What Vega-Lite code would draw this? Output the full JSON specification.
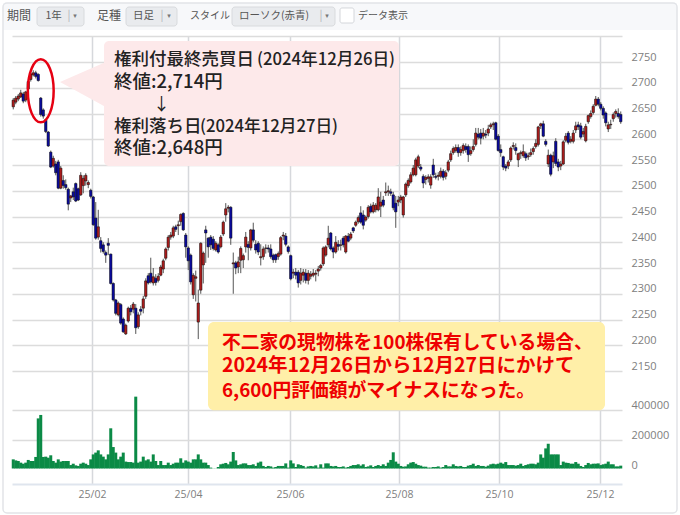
{
  "$schema": "https://vega.github.io/schema/vega-lite/v6.json",
  "autosize": "none",
  "padding": {"left": 12, "top": 36, "right": 58, "bottom": 31},
  "width": 610,
  "height": 448,
  "background": "#ffffff",
  "config": {"view": {"stroke": null}, "text": {"font": "Noto Sans CJK JP"}},
  "datasets": {
    "bars": [
      {"n":0,"o":2663,"h":2680,"l":2658,"c":2676,"v":71000},
      {"n":1,"o":2672,"h":2684,"l":2668,"c":2680,"v":64000},
      {"n":2,"o":2678,"h":2688,"l":2674,"c":2684,"v":60000},
      {"n":3,"o":2682,"h":2696,"l":2680,"c":2690,"v":49000},
      {"n":4,"o":2688,"h":2692,"l":2670,"c":2674,"v":42000},
      {"n":5,"o":2676,"h":2694,"l":2672,"c":2692,"v":49000},
      {"n":6,"o":2698,"h":2716,"l":2686,"c":2712,"v":67000},
      {"n":7,"o":2716,"h":2730,"l":2712,"c":2727,"v":60000},
      {"n":8,"o":2725,"h":2734,"l":2722,"c":2729,"v":60000},
      {"n":9,"o":2729,"h":2733,"l":2718,"c":2722,"v":87000},
      {"n":10,"o":2726,"h":2728,"l":2712,"c":2714,"v":344000},
      {"n":11,"o":2680,"h":2682,"l":2644,"c":2648,"v":367000},
      {"n":12,"o":2657,"h":2660,"l":2640,"c":2645,"v":87000},
      {"n":13,"o":2638,"h":2640,"l":2612,"c":2615,"v":89000},
      {"n":14,"o":2614,"h":2616,"l":2585,"c":2587,"v":82000},
      {"n":15,"o":2575,"h":2578,"l":2544,"c":2546,"v":98000},
      {"n":16,"o":2548,"h":2568,"l":2545,"c":2563,"v":60000},
      {"n":17,"o":2552,"h":2558,"l":2530,"c":2535,"v":49000},
      {"n":18,"o":2556,"h":2560,"l":2503,"c":2505,"v":71000},
      {"n":19,"o":2505,"h":2548,"l":2503,"c":2544,"v":56000},
      {"n":20,"o":2520,"h":2530,"l":2504,"c":2510,"v":60000},
      {"n":21,"o":2512,"h":2522,"l":2502,"c":2506,"v":60000},
      {"n":22,"o":2503,"h":2506,"l":2462,"c":2474,"v":60000},
      {"n":23,"o":2486,"h":2492,"l":2478,"c":2490,"v":33000},
      {"n":24,"o":2498,"h":2506,"l":2482,"c":2488,"v":42000},
      {"n":25,"o":2514,"h":2516,"l":2478,"c":2480,"v":31000},
      {"n":26,"o":2504,"h":2506,"l":2480,"c":2482,"v":27000},
      {"n":27,"o":2492,"h":2536,"l":2490,"c":2530,"v":42000},
      {"n":28,"o":2510,"h":2530,"l":2495,"c":2524,"v":49000},
      {"n":29,"o":2519,"h":2534,"l":2510,"c":2530,"v":42000},
      {"n":30,"o":2512,"h":2520,"l":2505,"c":2516,"v":33000},
      {"n":31,"o":2501,"h":2504,"l":2485,"c":2489,"v":71000},
      {"n":32,"o":2488,"h":2490,"l":2432,"c":2434,"v":104000},
      {"n":33,"o":2447,"h":2478,"l":2405,"c":2408,"v":116000},
      {"n":34,"o":2410,"h":2463,"l":2405,"c":2430,"v":131000},
      {"n":35,"o":2403,"h":2410,"l":2380,"c":2388,"v":104000},
      {"n":36,"o":2395,"h":2400,"l":2378,"c":2382,"v":89000},
      {"n":37,"o":2380,"h":2384,"l":2360,"c":2375,"v":71000},
      {"n":38,"o":2398,"h":2408,"l":2375,"c":2394,"v":104000},
      {"n":39,"o":2377,"h":2378,"l":2318,"c":2320,"v":278000},
      {"n":40,"o":2320,"h":2322,"l":2285,"c":2288,"v":153000},
      {"n":41,"o":2288,"h":2290,"l":2258,"c":2262,"v":116000},
      {"n":42,"o":2259,"h":2285,"l":2256,"c":2282,"v":71000},
      {"n":43,"o":2279,"h":2282,"l":2240,"c":2243,"v":89000},
      {"n":44,"o":2251,"h":2254,"l":2224,"c":2226,"v":116000},
      {"n":45,"o":2222,"h":2242,"l":2220,"c":2239,"v":56000},
      {"n":46,"o":2247,"h":2275,"l":2244,"c":2272,"v":53000},
      {"n":47,"o":2272,"h":2278,"l":2258,"c":2265,"v":53000},
      {"n":48,"o":2270,"h":2284,"l":2262,"c":2280,"v":49000},
      {"n":49,"o":2272,"h":2280,"l":2222,"c":2234,"v":489000},
      {"n":50,"o":2236,"h":2264,"l":2232,"c":2259,"v":49000},
      {"n":51,"o":2270,"h":2276,"l":2258,"c":2266,"v":56000},
      {"n":52,"o":2272,"h":2296,"l":2262,"c":2290,"v":89000},
      {"n":53,"o":2295,"h":2330,"l":2290,"c":2325,"v":64000},
      {"n":54,"o":2335,"h":2340,"l":2318,"c":2321,"v":71000},
      {"n":55,"o":2340,"h":2370,"l":2320,"c":2323,"v":56000},
      {"n":56,"o":2321,"h":2350,"l":2316,"c":2333,"v":104000},
      {"n":57,"o":2330,"h":2338,"l":2316,"c":2322,"v":60000},
      {"n":58,"o":2326,"h":2340,"l":2322,"c":2334,"v":33000},
      {"n":59,"o":2336,"h":2356,"l":2334,"c":2352,"v":60000},
      {"n":60,"o":2348,"h":2368,"l":2340,"c":2364,"v":33000},
      {"n":61,"o":2369,"h":2390,"l":2365,"c":2387,"v":33000},
      {"n":62,"o":2390,"h":2414,"l":2384,"c":2410,"v":49000},
      {"n":63,"o":2410,"h":2420,"l":2405,"c":2414,"v":33000},
      {"n":64,"o":2412,"h":2432,"l":2408,"c":2428,"v":42000},
      {"n":65,"o":2430,"h":2434,"l":2420,"c":2425,"v":49000},
      {"n":66,"o":2432,"h":2442,"l":2414,"c":2434,"v":49000},
      {"n":67,"o":2440,"h":2456,"l":2432,"c":2454,"v":78000},
      {"n":68,"o":2456,"h":2458,"l":2422,"c":2424,"v":49000},
      {"n":69,"o":2414,"h":2418,"l":2370,"c":2391,"v":64000},
      {"n":70,"o":2389,"h":2392,"l":2346,"c":2364,"v":56000},
      {"n":71,"o":2375,"h":2378,"l":2318,"c":2323,"v":49000},
      {"n":72,"o":2298,"h":2340,"l":2290,"c":2336,"v":71000},
      {"n":73,"o":2330,"h":2345,"l":2285,"c":2333,"v":71000},
      {"n":74,"o":2245,"h":2308,"l":2212,"c":2282,"v":104000},
      {"n":75,"o":2307,"h":2400,"l":2300,"c":2398,"v":71000},
      {"n":76,"o":2356,"h":2382,"l":2320,"c":2379,"v":49000},
      {"n":77,"o":2424,"h":2432,"l":2360,"c":2418,"v":49000},
      {"n":78,"o":2408,"h":2410,"l":2370,"c":2391,"v":33000},
      {"n":79,"o":2410,"h":2414,"l":2385,"c":2395,"v":16000},
      {"n":80,"o":2406,"h":2412,"l":2384,"c":2388,"v":11000},
      {"n":81,"o":2385,"h":2402,"l":2382,"c":2398,"v":11000},
      {"n":82,"o":2395,"h":2398,"l":2378,"c":2381,"v":20000},
      {"n":83,"o":2391,"h":2414,"l":2388,"c":2410,"v":38000},
      {"n":84,"o":2416,"h":2442,"l":2412,"c":2439,"v":42000},
      {"n":85,"o":2453,"h":2476,"l":2440,"c":2465,"v":47000},
      {"n":86,"o":2466,"h":2472,"l":2458,"c":2468,"v":38000},
      {"n":87,"o":2468,"h":2470,"l":2395,"c":2408,"v":56000},
      {"n":88,"o":2358,"h":2380,"l":2300,"c":2360,"v":120000},
      {"n":89,"o":2360,"h":2364,"l":2338,"c":2350,"v":64000},
      {"n":90,"o":2352,"h":2372,"l":2340,"c":2362,"v":33000},
      {"n":91,"o":2365,"h":2392,"l":2340,"c":2388,"v":38000},
      {"n":92,"o":2366,"h":2378,"l":2350,"c":2374,"v":44000},
      {"n":93,"o":2391,"h":2420,"l":2380,"c":2410,"v":44000},
      {"n":94,"o":2396,"h":2402,"l":2365,"c":2390,"v":33000},
      {"n":95,"o":2389,"h":2426,"l":2384,"c":2424,"v":33000},
      {"n":96,"o":2424,"h":2438,"l":2400,"c":2404,"v":38000},
      {"n":97,"o":2396,"h":2404,"l":2378,"c":2385,"v":27000},
      {"n":98,"o":2398,"h":2402,"l":2375,"c":2381,"v":49000},
      {"n":99,"o":2370,"h":2396,"l":2355,"c":2372,"v":56000},
      {"n":100,"o":2372,"h":2392,"l":2366,"c":2387,"v":27000},
      {"n":101,"o":2388,"h":2396,"l":2378,"c":2389,"v":20000},
      {"n":102,"o":2389,"h":2395,"l":2380,"c":2387,"v":27000},
      {"n":103,"o":2387,"h":2396,"l":2368,"c":2372,"v":24000},
      {"n":104,"o":2375,"h":2378,"l":2360,"c":2366,"v":16000},
      {"n":105,"o":2376,"h":2378,"l":2360,"c":2366,"v":20000},
      {"n":106,"o":2372,"h":2382,"l":2366,"c":2378,"v":27000},
      {"n":107,"o":2377,"h":2412,"l":2374,"c":2409,"v":27000},
      {"n":108,"o":2412,"h":2420,"l":2404,"c":2414,"v":27000},
      {"n":109,"o":2412,"h":2418,"l":2392,"c":2396,"v":44000},
      {"n":110,"o":2391,"h":2394,"l":2378,"c":2382,"v":16000},
      {"n":111,"o":2374,"h":2376,"l":2326,"c":2329,"v":64000},
      {"n":112,"o":2340,"h":2348,"l":2330,"c":2342,"v":44000},
      {"n":113,"o":2342,"h":2350,"l":2328,"c":2336,"v":20000},
      {"n":114,"o":2342,"h":2346,"l":2312,"c":2321,"v":38000},
      {"n":115,"o":2326,"h":2350,"l":2318,"c":2340,"v":33000},
      {"n":116,"o":2336,"h":2348,"l":2322,"c":2342,"v":27000},
      {"n":117,"o":2340,"h":2348,"l":2320,"c":2326,"v":16000},
      {"n":118,"o":2326,"h":2346,"l":2318,"c":2340,"v":24000},
      {"n":119,"o":2334,"h":2344,"l":2328,"c":2338,"v":27000},
      {"n":120,"o":2336,"h":2348,"l":2332,"c":2340,"v":24000},
      {"n":121,"o":2338,"h":2346,"l":2324,"c":2340,"v":31000},
      {"n":122,"o":2344,"h":2354,"l":2334,"c":2348,"v":16000},
      {"n":123,"o":2350,"h":2358,"l":2345,"c":2355,"v":38000},
      {"n":124,"o":2358,"h":2392,"l":2354,"c":2389,"v":16000},
      {"n":125,"o":2375,"h":2394,"l":2372,"c":2391,"v":44000},
      {"n":126,"o":2395,"h":2432,"l":2390,"c":2408,"v":44000},
      {"n":127,"o":2418,"h":2420,"l":2384,"c":2387,"v":27000},
      {"n":128,"o":2389,"h":2392,"l":2369,"c":2381,"v":24000},
      {"n":129,"o":2381,"h":2412,"l":2378,"c":2400,"v":27000},
      {"n":130,"o":2396,"h":2404,"l":2384,"c":2392,"v":20000},
      {"n":131,"o":2394,"h":2405,"l":2384,"c":2395,"v":20000},
      {"n":132,"o":2408,"h":2412,"l":2390,"c":2395,"v":24000},
      {"n":133,"o":2381,"h":2414,"l":2378,"c":2412,"v":16000},
      {"n":134,"o":2412,"h":2418,"l":2400,"c":2402,"v":20000},
      {"n":135,"o":2408,"h":2420,"l":2404,"c":2416,"v":27000},
      {"n":136,"o":2428,"h":2430,"l":2418,"c":2422,"v":33000},
      {"n":137,"o":2433,"h":2442,"l":2430,"c":2439,"v":33000},
      {"n":138,"o":2440,"h":2452,"l":2436,"c":2448,"v":38000},
      {"n":139,"o":2457,"h":2470,"l":2436,"c":2439,"v":29000},
      {"n":140,"o":2453,"h":2462,"l":2425,"c":2433,"v":38000},
      {"n":141,"o":2443,"h":2452,"l":2440,"c":2449,"v":20000},
      {"n":142,"o":2450,"h":2472,"l":2446,"c":2468,"v":24000},
      {"n":143,"o":2470,"h":2475,"l":2456,"c":2459,"v":31000},
      {"n":144,"o":2459,"h":2478,"l":2456,"c":2472,"v":20000},
      {"n":145,"o":2463,"h":2476,"l":2458,"c":2472,"v":27000},
      {"n":146,"o":2463,"h":2505,"l":2460,"c":2488,"v":33000},
      {"n":147,"o":2470,"h":2498,"l":2449,"c":2478,"v":27000},
      {"n":148,"o":2482,"h":2490,"l":2468,"c":2472,"v":38000},
      {"n":149,"o":2496,"h":2516,"l":2490,"c":2498,"v":27000},
      {"n":150,"o":2498,"h":2510,"l":2490,"c":2500,"v":49000},
      {"n":151,"o":2498,"h":2504,"l":2490,"c":2495,"v":67000},
      {"n":152,"o":2492,"h":2498,"l":2462,"c":2467,"v":118000},
      {"n":153,"o":2476,"h":2490,"l":2428,"c":2459,"v":56000},
      {"n":154,"o":2478,"h":2490,"l":2470,"c":2482,"v":42000},
      {"n":155,"o":2482,"h":2492,"l":2476,"c":2488,"v":27000},
      {"n":156,"o":2453,"h":2490,"l":2448,"c":2488,"v":22000},
      {"n":157,"o":2492,"h":2516,"l":2488,"c":2513,"v":24000},
      {"n":158,"o":2510,"h":2524,"l":2506,"c":2520,"v":38000},
      {"n":159,"o":2517,"h":2536,"l":2514,"c":2531,"v":49000},
      {"n":160,"o":2531,"h":2550,"l":2528,"c":2544,"v":53000},
      {"n":161,"o":2531,"h":2564,"l":2528,"c":2560,"v":42000},
      {"n":162,"o":2548,"h":2570,"l":2544,"c":2566,"v":33000},
      {"n":163,"o":2546,"h":2552,"l":2538,"c":2542,"v":29000},
      {"n":164,"o":2528,"h":2532,"l":2505,"c":2515,"v":22000},
      {"n":165,"o":2522,"h":2530,"l":2512,"c":2526,"v":22000},
      {"n":166,"o":2524,"h":2532,"l":2516,"c":2527,"v":16000},
      {"n":167,"o":2511,"h":2532,"l":2504,"c":2527,"v":16000},
      {"n":168,"o":2550,"h":2562,"l":2525,"c":2531,"v":20000},
      {"n":169,"o":2528,"h":2535,"l":2522,"c":2526,"v":20000},
      {"n":170,"o":2528,"h":2536,"l":2520,"c":2530,"v":24000},
      {"n":171,"o":2528,"h":2545,"l":2524,"c":2538,"v":16000},
      {"n":172,"o":2538,"h":2542,"l":2520,"c":2526,"v":20000},
      {"n":173,"o":2528,"h":2540,"l":2522,"c":2535,"v":33000},
      {"n":174,"o":2540,"h":2560,"l":2536,"c":2556,"v":24000},
      {"n":175,"o":2560,"h":2578,"l":2556,"c":2572,"v":24000},
      {"n":176,"o":2574,"h":2586,"l":2570,"c":2582,"v":38000},
      {"n":177,"o":2578,"h":2590,"l":2574,"c":2584,"v":27000},
      {"n":178,"o":2584,"h":2590,"l":2566,"c":2574,"v":24000},
      {"n":179,"o":2574,"h":2586,"l":2568,"c":2580,"v":27000},
      {"n":180,"o":2578,"h":2592,"l":2572,"c":2588,"v":20000},
      {"n":181,"o":2586,"h":2592,"l":2574,"c":2580,"v":20000},
      {"n":182,"o":2586,"h":2590,"l":2556,"c":2570,"v":29000},
      {"n":183,"o":2572,"h":2586,"l":2568,"c":2578,"v":33000},
      {"n":184,"o":2580,"h":2600,"l":2576,"c":2586,"v":42000},
      {"n":185,"o":2590,"h":2622,"l":2586,"c":2612,"v":27000},
      {"n":186,"o":2610,"h":2622,"l":2600,"c":2604,"v":33000},
      {"n":187,"o":2612,"h":2620,"l":2590,"c":2602,"v":27000},
      {"n":188,"o":2606,"h":2622,"l":2600,"c":2612,"v":27000},
      {"n":189,"o":2610,"h":2618,"l":2602,"c":2608,"v":22000},
      {"n":190,"o":2612,"h":2628,"l":2606,"c":2620,"v":29000},
      {"n":191,"o":2624,"h":2632,"l":2620,"c":2628,"v":38000},
      {"n":192,"o":2628,"h":2634,"l":2618,"c":2630,"v":42000},
      {"n":193,"o":2632,"h":2634,"l":2598,"c":2600,"v":38000},
      {"n":194,"o":2606,"h":2610,"l":2576,"c":2578,"v":42000},
      {"n":195,"o":2580,"h":2590,"l":2566,"c":2574,"v":49000},
      {"n":196,"o":2566,"h":2568,"l":2540,"c":2546,"v":42000},
      {"n":197,"o":2548,"h":2552,"l":2538,"c":2544,"v":53000},
      {"n":198,"o":2548,"h":2560,"l":2542,"c":2556,"v":33000},
      {"n":199,"o":2560,"h":2586,"l":2556,"c":2583,"v":33000},
      {"n":200,"o":2586,"h":2594,"l":2580,"c":2588,"v":33000},
      {"n":201,"o":2584,"h":2592,"l":2570,"c":2578,"v":29000},
      {"n":202,"o":2560,"h":2574,"l":2546,"c":2572,"v":33000},
      {"n":203,"o":2572,"h":2578,"l":2562,"c":2574,"v":42000},
      {"n":204,"o":2568,"h":2590,"l":2564,"c":2576,"v":27000},
      {"n":205,"o":2572,"h":2576,"l":2558,"c":2564,"v":33000},
      {"n":206,"o":2566,"h":2574,"l":2560,"c":2568,"v":38000},
      {"n":207,"o":2570,"h":2582,"l":2566,"c":2574,"v":42000},
      {"n":208,"o":2576,"h":2586,"l":2570,"c":2582,"v":42000},
      {"n":209,"o":2586,"h":2600,"l":2582,"c":2592,"v":38000},
      {"n":210,"o":2590,"h":2626,"l":2586,"c":2624,"v":49000},
      {"n":211,"o":2626,"h":2632,"l":2620,"c":2630,"v":104000},
      {"n":212,"o":2630,"h":2636,"l":2604,"c":2606,"v":82000},
      {"n":213,"o":2596,"h":2600,"l":2586,"c":2590,"v":144000},
      {"n":214,"o":2552,"h":2580,"l":2546,"c":2569,"v":175000},
      {"n":215,"o":2569,"h":2572,"l":2528,"c":2532,"v":104000},
      {"n":216,"o":2556,"h":2576,"l":2544,"c":2568,"v":104000},
      {"n":217,"o":2596,"h":2602,"l":2548,"c":2553,"v":104000},
      {"n":218,"o":2556,"h":2562,"l":2538,"c":2546,"v":104000},
      {"n":219,"o":2548,"h":2558,"l":2540,"c":2552,"v":33000},
      {"n":220,"o":2552,"h":2598,"l":2550,"c":2595,"v":56000},
      {"n":221,"o":2598,"h":2612,"l":2594,"c":2606,"v":49000},
      {"n":222,"o":2612,"h":2616,"l":2590,"c":2594,"v":47000},
      {"n":223,"o":2596,"h":2606,"l":2592,"c":2600,"v":42000},
      {"n":224,"o":2596,"h":2618,"l":2592,"c":2612,"v":42000},
      {"n":225,"o":2618,"h":2634,"l":2612,"c":2626,"v":53000},
      {"n":226,"o":2628,"h":2634,"l":2618,"c":2624,"v":42000},
      {"n":227,"o":2626,"h":2632,"l":2600,"c":2604,"v":27000},
      {"n":228,"o":2610,"h":2622,"l":2604,"c":2615,"v":20000},
      {"n":229,"o":2597,"h":2630,"l":2594,"c":2625,"v":33000},
      {"n":230,"o":2634,"h":2648,"l":2630,"c":2646,"v":47000},
      {"n":231,"o":2644,"h":2656,"l":2640,"c":2650,"v":38000},
      {"n":232,"o":2652,"h":2668,"l":2648,"c":2664,"v":42000},
      {"n":233,"o":2666,"h":2684,"l":2664,"c":2678,"v":42000},
      {"n":234,"o":2678,"h":2682,"l":2664,"c":2668,"v":44000},
      {"n":235,"o":2668,"h":2672,"l":2656,"c":2660,"v":33000},
      {"n":236,"o":2660,"h":2664,"l":2640,"c":2647,"v":38000},
      {"n":237,"o":2651,"h":2654,"l":2625,"c":2632,"v":42000},
      {"n":238,"o":2620,"h":2634,"l":2614,"c":2628,"v":56000},
      {"n":239,"o":2628,"h":2638,"l":2620,"c":2629,"v":38000},
      {"n":240,"o":2640,"h":2652,"l":2634,"c":2648,"v":38000},
      {"n":241,"o":2650,"h":2658,"l":2642,"c":2654,"v":24000},
      {"n":242,"o":2650,"h":2660,"l":2640,"c":2644,"v":24000},
      {"n":243,"o":2648,"h":2654,"l":2630,"c":2634,"v":29000}
    ]
  },
  "data": {"name": "bars"},
  "encoding": {
    "x": {
      "field": "n",
      "type": "quantitative",
      "scale": {"domain": [-0.5, 243.5], "nice": false, "zero": false, "padding": 0},
      "axis": {
        "title": null,
        "values": [31.5, 69.9, 110.7, 154.3, 194.3, 234.7],
        "labelExpr": "{'31.5':'25/02','69.9':'25/04','110.7':'25/06','154.3':'25/08','194.3':'25/10','234.7':'25/12'}[datum.value]",
        "grid": true,
        "gridColor": "#d6d8dc",
        "gridWidth": 1.5,
        "domainColor": "#dfe5ee",
        "domainWidth": 2,
        "ticks": false,
        "labelPadding": 5,
        "labelColor": "#808080",
        "labelFont": "Open Sans",
        "labelFontSize": 10.5,
        "labelOverlap": false
      }
    }
  },
  "layer": [
    {
      "mark": {"type": "bar", "size": 3, "color": "#0b8a46", "orient": "vertical"},
      "encoding": {
        "y": {
          "field": "v",
          "type": "quantitative",
          "scale": {"domain": [-93333, 2893333], "nice": false, "zero": false, "padding": 0},
          "axis": {
            "title": null,
            "orient": "right",
            "values": [0, 200000, 400000],
            "format": "d",
            "grid": true,
            "gridColor": "#dcdcdc",
            "gridWidth": 1.5,
            "gridOpacity": {"condition": {"test": "datum.value == 0", "value": 0}, "value": 1},
            "domain": false,
            "ticks": false,
            "labelPadding": 9,
            "labelBaseline": "bottom",
            "labelColor": "#808080",
            "labelFont": "Open Sans",
            "labelFontSize": 11,
            "labelOverlap": false,
            "labelBound": false,
            "labelFlush": false
          }
        },
        "y2": {"datum": 10000}
      }
    },
    {
      "layer": [
        {
          "mark": {"type": "rule", "color": "#555555", "strokeWidth": 1},
          "encoding": {
            "y": {
              "field": "l",
              "type": "quantitative",
              "scale": {"domain": [1930.6, 2800.5], "nice": false, "zero": false, "padding": 0},
              "axis": {
                "title": null,
                "orient": "right",
                "values": [2150, 2200, 2250, 2300, 2350, 2400, 2450, 2500, 2550, 2600, 2650, 2700, 2750, 2800],
                "labelExpr": "datum.value == 2800 ? '' : datum.label",
                "format": "d",
                "grid": true,
                "gridColor": "#dcdcdc",
                "gridWidth": 1.5,
                "domain": false,
                "ticks": false,
                "labelPadding": 9,
                "labelBaseline": "bottom",
                "labelColor": "#808080",
                "labelFont": "Open Sans",
                "labelFontSize": 11,
                "labelOverlap": false,
                "labelBound": false,
                "labelFlush": false
              }
            },
            "y2": {"field": "h"}
          }
        },
        {
          "mark": {"type": "bar", "size": 2.5, "stroke": "#111111", "strokeWidth": 0.5, "orient": "vertical"},
          "encoding": {
            "y": {"field": "o", "type": "quantitative", "axis": null},
            "y2": {"field": "c"},
            "fill": {"condition": {"test": "datum.c >= datum.o", "value": "#a81c1c"}, "value": "#0a0a9a"}
          }
        },
        {
          "data": {"values": [
            {"n": -4.1, "n2": 265.5, "p": 2864.6, "p2": 2812.1}
          ]},
          "mark": {"type": "rect", "fill": "#f7f8fa"},
          "encoding": {
            "x2": {"field": "n2"},
            "y": {"field": "p", "type": "quantitative", "axis": null},
            "y2": {"field": "p2"}
          }
        },
        {
          "data": {"values": [
            {"n": -4.1, "n2": 265.5, "p": 2864.6, "p2": 1874.3}
          ]},
          "mark": {"type": "rect", "fill": null, "stroke": "#e2e4e8", "strokeWidth": 1.5, "cornerRadius": 4},
          "encoding": {
            "x2": {"field": "n2"},
            "y": {"field": "p", "type": "quantitative", "axis": null},
            "y2": {"field": "p2"}
          }
        },
        {
          "data": {"values": [
            {"n": 9.5, "n2": 28.3, "p": 2856.8, "p2": 2819.9},
            {"n": 45.1, "n2": 65.5, "p": 2856.8, "p2": 2819.9},
            {"n": 87.5, "n2": 128.7, "p": 2856.8, "p2": 2819.9}
          ]},
          "mark": {"type": "rect", "fill": "#e9ebee", "stroke": "#d8dadd", "cornerRadius": 3},
          "encoding": {
            "x2": {"field": "n2"},
            "y": {"field": "p", "type": "quantitative", "axis": null},
            "y2": {"field": "p2"}
          }
        },
        {
          "data": {"values": [
            {"n": 130.7, "n2": 136.3, "p": 2854.9, "p2": 2825.7}
          ]},
          "mark": {"type": "rect", "fill": "#ffffff", "stroke": "#d4d6da", "cornerRadius": 2},
          "encoding": {
            "x2": {"field": "n2"},
            "y": {"field": "p", "type": "quantitative", "axis": null},
            "y2": {"field": "p2"}
          }
        },
        {
          "data": {"values": [
            {"n": -2.5, "p": 2839.3, "t": "期間"},
            {"n": 33.5, "p": 2839.3, "t": "足種"}
          ]},
          "mark": {"type": "text", "align": "left", "baseline": "middle", "fontSize": 12, "color": "#555555"},
          "encoding": {
            "y": {"field": "p", "type": "quantitative", "axis": null},
            "text": {"field": "t"}
          }
        },
        {
          "data": {"values": [
            {"n": 70.7, "p": 2839.3, "t": "スタイル"},
            {"n": 137.9, "p": 2839.3, "t": "データ表示"}
          ]},
          "mark": {"type": "text", "align": "left", "baseline": "middle", "fontSize": 10, "color": "#555555"},
          "encoding": {
            "y": {"field": "p", "type": "quantitative", "axis": null},
            "text": {"field": "t"}
          }
        },
        {
          "data": {"values": [
            {"n": 12.9, "p": 2839.3, "t": "1年"},
            {"n": 47.9, "p": 2839.3, "t": "日足"},
            {"n": 90.3, "p": 2839.3, "t": "ローソク(赤青)"}
          ]},
          "mark": {"type": "text", "align": "left", "baseline": "middle", "fontSize": 10.5, "color": "#555555"},
          "encoding": {
            "y": {"field": "p", "type": "quantitative", "axis": null},
            "text": {"field": "t"}
          }
        },
        {
          "data": {"values": [
            {"n": 22.3, "p": 2839.3, "t": "|"},
            {"n": 59.5, "p": 2839.3, "t": "|"},
            {"n": 123.1, "p": 2839.3, "t": "|"}
          ]},
          "mark": {"type": "text", "align": "center", "baseline": "middle", "fontSize": 11, "color": "#b0b2b6"},
          "encoding": {
            "y": {"field": "p", "type": "quantitative", "axis": null},
            "text": {"field": "t"}
          }
        },
        {
          "data": {"values": [
            {"n": 24.7, "p": 2839.3, "t": "▾"},
            {"n": 62.3, "p": 2839.3, "t": "▾"},
            {"n": 125.5, "p": 2839.3, "t": "▾"}
          ]},
          "mark": {"type": "text", "align": "center", "baseline": "middle", "font": "DejaVu Sans", "fontSize": 7, "color": "#777777"},
          "encoding": {
            "y": {"field": "p", "type": "quantitative", "axis": null},
            "text": {"field": "t"}
          }
        },
        {
          "data": {"values": [
            {"n": 18.7, "p": 2711.2, "p2": 2711.2},
            {"n": 37, "p": 2750, "p2": 2662.6}
          ]},
          "mark": {"type": "area", "color": "#fde9ea", "orient": "vertical"},
          "encoding": {
            "y": {"field": "p", "type": "quantitative", "axis": null},
            "y2": {"field": "p2"}
          }
        },
        {
          "data": {"values": [
            {"n": 36.3, "n2": 154.3, "p": 2790.8, "p2": 2548}
          ]},
          "mark": {"type": "rect", "fill": "#fde9ea", "cornerRadius": 5},
          "encoding": {
            "x2": {"field": "n2"},
            "y": {"field": "p", "type": "quantitative", "axis": null},
            "y2": {"field": "p2"}
          }
        },
        {
          "data": {"values": [
            {"n": 40.3, "p": 2753.9, "t": "権利付最終売買日"},
            {"n": 40.3, "p": 2623.8, "t": "権利落ち日"}
          ]},
          "mark": {"type": "text", "align": "left", "baseline": "middle", "fontSize": 17.5, "fontWeight": 500, "color": "#222222"},
          "encoding": {
            "y": {"field": "p", "type": "quantitative", "axis": null},
            "text": {"field": "t"}
          }
        },
        {
          "data": {"values": [
            {"n": 40.3, "p": 2711.2, "t": "終値:2,714円"},
            {"n": 40.3, "p": 2583, "t": "終値:2,648円"}
          ]},
          "mark": {"type": "text", "align": "left", "baseline": "middle", "fontSize": 18.5, "fontWeight": 500, "color": "#222222"},
          "encoding": {
            "y": {"field": "p", "type": "quantitative", "axis": null},
            "text": {"field": "t"}
          }
        },
        {
          "data": {"values": [
            {"n": 97.5, "p": 2753.9, "t": "(2024年12月26日)"},
            {"n": 74.7, "p": 2623.8, "t": "(2024年12月27日)"}
          ]},
          "mark": {"type": "text", "align": "left", "baseline": "middle", "fontSize": 16.7, "fontWeight": 500, "color": "#222222"},
          "encoding": {
            "y": {"field": "p", "type": "quantitative", "axis": null},
            "text": {"field": "t"}
          }
        },
        {
          "data": {"values": [
            {"n": 59.3, "p": 2666.5, "t": "↓"}
          ]},
          "mark": {"type": "text", "align": "center", "baseline": "middle", "fontSize": 17, "color": "#222222"},
          "encoding": {
            "y": {"field": "p", "type": "quantitative", "axis": null},
            "text": {"field": "t"}
          }
        },
        {
          "data": {"values": [
            {"n": 11, "p": 2694}
          ]},
          "mark": {
            "type": "point",
            "shape": "M -0.41 0 A 0.41 1 0 1 1 0.41 0 A 0.41 1 0 1 1 -0.41 0 Z",
            "size": 3969,
            "filled": false,
            "stroke": "#e60012",
            "strokeWidth": 2.5,
            "opacity": 1
          },
          "encoding": {
            "y": {"field": "p", "type": "quantitative", "axis": null}
          }
        },
        {
          "data": {"values": [
            {"n": 77.9, "n2": 236.7, "p": 2245.1, "p2": 2074}
          ]},
          "mark": {"type": "rect", "fill": "#ffefa8", "cornerRadius": 6},
          "encoding": {
            "x2": {"field": "n2"},
            "y": {"field": "p", "type": "quantitative", "axis": null},
            "y2": {"field": "p2"}
          }
        },
        {
          "data": {"values": [
            {"n": 83.5, "p": 2204, "t": "不二家の現物株を100株保有している場合、"},
            {"n": 83.5, "p": 2112, "t": "6,600円評価額がマイナスになった。"}
          ]},
          "mark": {"type": "text", "align": "left", "baseline": "middle", "fontSize": 18.8, "fontWeight": "bold", "color": "#ee0000"},
          "encoding": {
            "y": {"field": "p", "type": "quantitative", "axis": null},
            "text": {"field": "t"}
          }
        },
        {
          "data": {"values": [
            {"n": 83.5, "p": 2159, "t": "2024年12月26日から12月27日にかけて"}
          ]},
          "mark": {"type": "text", "align": "left", "baseline": "middle", "fontSize": 19.5, "fontWeight": "bold", "color": "#ee0000"},
          "encoding": {
            "y": {"field": "p", "type": "quantitative", "axis": null},
            "text": {"field": "t"}
          }
        }
      ],
      "resolve": {"axis": {"y": "independent"}}
    }
  ],
  "resolve": {"scale": {"y": "independent"}}
}
